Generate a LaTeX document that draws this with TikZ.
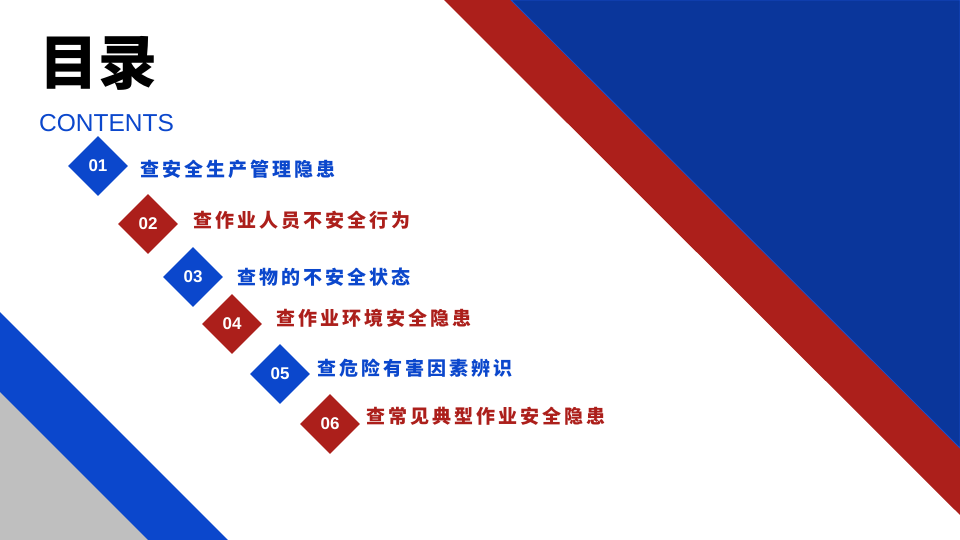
\documentclass[tikz,border=0pt]{standalone}
\usepackage{fontspec}
\setmainfont{Liberation Sans}
\newfontfamily\cjk{Noto Sans CJK SC}
\newfontfamily\cjksp{Noto Sans CJK SC}[LetterSpace=16]
\usetikzlibrary{shapes.geometric}
\definecolor{dblue}{HTML}{0A369B}
\definecolor{eblue}{HTML}{1A4FD0}
\definecolor{mblue}{HTML}{0B47CC}
\definecolor{mred}{HTML}{AC1F1B}
\definecolor{mgray}{HTML}{BFBFBF}
\tikzset{
  dia/.style={shape=diamond, aspect=1, minimum width=60pt, minimum height=60pt, inner sep=0pt, text=white, font=\fontsize{17}{17}\selectfont\bfseries},
  bluedia/.style={dia, fill=mblue},
  reddia/.style={dia, fill=mred},
  item/.style={anchor=west, inner sep=0pt, font=\fontsize{19}{19}\selectfont\cjksp\bfseries},
  blueitem/.style={item, text=mblue},
  reditem/.style={item, text=mred}
}
\begin{document}
\begin{tikzpicture}[x=1pt,y=-1pt]
\useasboundingbox (0,0) rectangle (960,540);
\fill[white] (0,0) rectangle (960,540);
% top-right bands
\fill[mred] (444,0) -- (511,0) -- (960,448) -- (960,515) -- cycle;
\filldraw[fill=dblue, draw=eblue, line width=0.8pt] (511,0) -- (960,0) -- (960,448) -- cycle;
% bottom-left bands
\fill[mblue] (0,312) -- (228,540) -- (0,540) -- cycle;
\fill[mgray] (0,392) -- (148,540) -- (0,540) -- cycle;
% title
\node[anchor=west, inner sep=0pt, font=\fontsize{59}{59}\selectfont\cjk\bfseries] (title) at (39,63.5) {目录};
\node[anchor=west, inner sep=0pt, font=\fontsize{24.5}{24.5}\selectfont, text=mblue] (contents) at (39,123.5) {CONTENTS};
% items
\node[bluedia] (d1) at (98,166) {01};
\node[reddia]  (d2) at (148,224) {02};
\node[bluedia] (d3) at (193,277) {03};
\node[reddia]  (d4) at (232,324) {04};
\node[bluedia] (d5) at (280,374) {05};
\node[reddia]  (d6) at (330,424) {06};
\node[blueitem] (t1) at (140,169) {查安全生产管理隐患};
\node[reditem]  (t2) at (193,220.5) {查作业人员不安全行为};
\node[blueitem] (t3) at (237,277.5) {查物的不安全状态};
\node[reditem]  (t4) at (276,318.5) {查作业环境安全隐患};
\node[blueitem] (t5) at (317,368) {查危险有害因素辨识};
\node[reditem]  (t6) at (366,416.5) {查常见典型作业安全隐患};
\end{tikzpicture}
\end{document}
